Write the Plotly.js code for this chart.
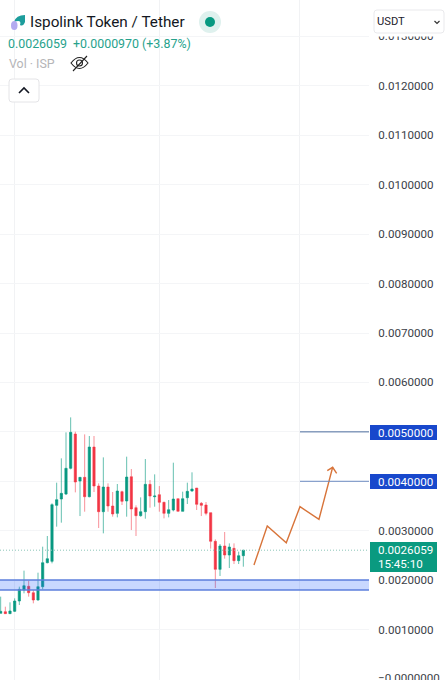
<!DOCTYPE html>
<html><head><meta charset="utf-8">
<script src="https://cdn.plot.ly/plotly-3.0.1.min.js"></script>
<style>html,body{margin:0;padding:0;background:#fff;overflow:hidden}#c{width:448px;height:680px}</style>
</head><body><div id="c"></div>
<script>
const open_ = [0.001328,0.001362,0.001322,0.001369,0.001578,0.001800,0.001875,0.001746,0.001598,0.001868,0.002353,0.002380,0.003513,0.003641,0.003742,0.004262,0.004956,0.004005,0.004080,0.003688,0.004693,0.003904,0.003385,0.003884,0.003500,0.003351,0.003790,0.003601,0.004093,0.003466,0.003304,0.003385,0.003938,0.003688,0.003729,0.003574,0.003351,0.003419,0.003648,0.003392,0.003668,0.003803,0.003864,0.003554,0.003520,0.003365,0.002785,0.002218,0.002691,0.002508,0.002643,0.002394,0.002495];
const high_ = [0.001666,0.001463,0.001551,0.001632,0.001868,0.002192,0.001989,0.001800,0.002151,0.002677,0.002893,0.003554,0.003972,0.004464,0.004990,0.005293,0.005003,0.004080,0.004949,0.004916,0.004916,0.003958,0.004484,0.003958,0.003783,0.003945,0.003810,0.004498,0.004248,0.003513,0.003675,0.004450,0.004026,0.004140,0.003904,0.003587,0.003621,0.004376,0.003648,0.003790,0.003972,0.004181,0.003864,0.003581,0.003581,0.003365,0.002825,0.002731,0.002974,0.002744,0.002744,0.002576,0.002610];
const low_ = [0.001328,0.001315,0.001322,0.001355,0.001497,0.001733,0.001666,0.001531,0.001585,0.001814,0.002340,0.002340,0.003082,0.003163,0.003722,0.004241,0.003776,0.003297,0.003385,0.003675,0.003783,0.003055,0.002947,0.003385,0.003284,0.003270,0.003520,0.003284,0.003014,0.002893,0.003284,0.003243,0.003466,0.003486,0.003385,0.003250,0.003270,0.003392,0.003392,0.003392,0.003540,0.003790,0.003419,0.003297,0.003311,0.002637,0.001841,0.002084,0.002434,0.002245,0.002326,0.002326,0.002272];
const close_ = [0.001369,0.001322,0.001376,0.001578,0.001814,0.001888,0.001746,0.001598,0.001868,0.002353,0.002434,0.003527,0.003628,0.003756,0.004262,0.004990,0.003985,0.004080,0.003688,0.004693,0.003904,0.003385,0.003884,0.003500,0.003338,0.003803,0.003594,0.004086,0.003439,0.003304,0.003385,0.003938,0.003702,0.003702,0.003574,0.003351,0.003425,0.003641,0.003392,0.003648,0.003796,0.003844,0.003533,0.003513,0.003351,0.002785,0.002218,0.002691,0.002508,0.002670,0.002394,0.002495,0.0026059];
const candleIndex = open_.map((_, i) => i);

const arrowX = [54.28,57.13,61.2,64.14,68.21,71.14];
const arrowY = [0.002306,0.003095,0.002757,0.003486,0.003231,0.004283];
const headX = [69.99,71.14,72.0];
const headY = [0.004214,0.004283,0.004161];

const zoneTop = 0.002003, zoneBottom = 0.0018;
const targets = [0.005, 0.004];
const lastPrice = 0.0026059;
const yTicks = [0.001,0.002,0.003,0.004,0.005,0.006,0.007,0.008,0.009,0.01,0.011,0.012,0.013];
const xGrid = [2.86,34.14,64.14];

const W = 369, H = 680;
const px = x => x / W, py = y => 1 - y / H;
const ff = 'Roboto, Arial, sans-serif';
const UP = '#089981', DOWN = '#f23645';

const paperPath = (pts, extra) => Object.assign({type:'path', xref:'paper', yref:'paper', path:pts}, extra);
const P = (x,y) => px(x) + ',' + py(y);
const rect = (x0,y0,x1,y1,fill,line) => ({type:'rect',xref:'paper',yref:'paper',x0:px(x0),x1:px(x1),y0:py(y1),y1:py(y0),fillcolor:fill,line:{color:line||fill,width:line?1:0}});
const circ = (cx,cy,r,fill) => ({type:'circle',xref:'paper',yref:'paper',x0:px(cx-r),x1:px(cx+r),y0:py(cy+r),y1:py(cy-r),fillcolor:fill,line:{width:0}});
const roundRect = (x0,y0,x1,y1,r,line) => paperPath(
  `M${P(x0+r,y0)}L${P(x1-r,y0)}Q${P(x1,y0)} ${P(x1,y0+r)}L${P(x1,y1-r)}Q${P(x1,y1)} ${P(x1-r,y1)}L${P(x0+r,y1)}Q${P(x0,y1)} ${P(x0,y1-r)}L${P(x0,y0+r)}Q${P(x0,y0)} ${P(x0+r,y0)}Z`,
  {fillcolor:'#ffffff', line:{color:line,width:1}});
const txt = (text,x,y,size,color,anchor) => ({text,xref:'paper',yref:'paper',x:px(x-1.5),y:py(y),xanchor:anchor||'left',yanchor:'middle',showarrow:false,font:{family:ff,size,color},borderpad:0});

const traces = [
  {type:'candlestick', x:candleIndex, open:open_, high:high_, low:low_, close:close_,
   increasing:{line:{color:'rgba(8,153,129,0.62)',width:1},fillcolor:UP},
   decreasing:{line:{color:'rgba(242,54,69,0.55)',width:1},fillcolor:DOWN},
   hoverinfo:'skip', showlegend:false},
  {type:'scatter', mode:'lines', x:arrowX, y:arrowY, line:{color:'#d8743a',width:1.4}, hoverinfo:'skip', showlegend:false},
  {type:'scatter', mode:'lines', x:headX, y:headY, line:{color:'#d8743a',width:1.4}, hoverinfo:'skip', showlegend:false}
];

const shapes = [
  {type:'rect',xref:'paper',yref:'y',x0:0,x1:1,y0:zoneBottom,y1:zoneTop,fillcolor:'rgba(41,98,255,0.25)',line:{width:0},layer:'above'},
  {type:'line',xref:'paper',yref:'y',x0:0,x1:1,y0:zoneTop,y1:zoneTop,line:{color:'#5c7fdc',width:1.5}},
  {type:'line',xref:'paper',yref:'y',x0:0,x1:1,y0:zoneBottom,y1:zoneBottom,line:{color:'#5c7fdc',width:1.5}},
  {type:'line',xref:'x',yref:'y',x0:xGrid[2],x1:78.93,y0:targets[0],y1:targets[0],line:{color:'#4d6d9e',width:1}},
  {type:'line',xref:'x',yref:'y',x0:xGrid[2],x1:78.93,y0:targets[1],y1:targets[1],line:{color:'#6b8ac0',width:1}},
  {type:'line',xref:'paper',yref:'y',x0:0,x1:1,y0:lastPrice,y1:lastPrice,line:{color:'#8cc5b9',width:1,dash:'1px,2px'}},
  rect(370,425,437,440,'#1848cc'),
  rect(370,474,437,489,'#1848cc'),
  rect(370,542,437,572,'#0a9a80'),
  rect(370,30,448,36.5,'#ffffff'),
  roundRect(374,10,444,33,3,'#e9e9ec'),
  paperPath(`M${P(434.5,21)}L${P(437,23.5)}L${P(439.5,21)}`,{line:{color:'#333',width:1.2}}),
  roundRect(9,79,39,102,3,'#e4e4e7'),
  paperPath(`M${P(19,93)}L${P(24,88)}L${P(29,93)}`,{line:{color:'#131722',width:1.6}}),
  circ(210,22,11,'#dff1ee'),
  circ(210,22,5,'#089981'),
  paperPath(`M${P(14,22)}Q${P(16,15)} ${P(25,15)}L${P(25,22)}Q${P(23,27)} ${P(20,25)}Q${P(22,19)} ${P(14,22)}Z`,{fillcolor:'#1d9d9c',line:{width:0}}),
  {type:'circle',xref:'paper',yref:'paper',x0:px(11),x1:px(17.5),y0:py(30),y1:py(21),fillcolor:'#b3aaf0',line:{width:0}},
  paperPath(`M${P(71,63)}Q${P(79.5,52)} ${P(88,63)}Q${P(79.5,74)} ${P(71,63)}Z`,{line:{color:'#222',width:1.1}}),
  {type:'circle',xref:'paper',yref:'paper',x0:px(76.5),x1:px(82.5),y0:py(66),y1:py(60),line:{color:'#222',width:1.1}},
  paperPath(`M${P(73,71)}L${P(87,56)}`,{line:{color:'#222',width:1.1}})
];

const annotations = [
  txt('Ispolink Token / Tether',30,22,15.3,'#131722'),
  txt('0.0026059',8,43,12.4,'#27a28c'),
  txt('+0.0000970 (+3.87%)',73,43,12.4,'#27a28c'),
  txt('Vol · ISP',9,63,12.4,'#b5b5b8'),
  txt('USDT',377,22,11.2,'#1e222d'),
  txt('0.0050000',378,432.5,11.6,'#ffffff'),
  txt('0.0040000',378,481.5,11.6,'#ffffff'),
  txt('0.0026059',378,550,11.6,'#ffffff'),
  txt('15:45:10',378,564,11.6,'#ffffff'),
  txt('−0.0000000',378,678,11.6,'#3a3e47')
];

const layout = {
  width:448, height:680, margin:{l:0,r:79,t:0,b:0},
  paper_bgcolor:'#ffffff', plot_bgcolor:'#ffffff', showlegend:false, dragmode:false,
  xaxis:{range:[-0.143,78.93], tickvals:xGrid, showticklabels:false, ticks:'', showgrid:true, gridcolor:'#f1f2f4', gridwidth:1, zeroline:false, rangeslider:{visible:false}, showline:false},
  yaxis:{range:[-0.0000202,0.013737], side:'right', tickvals:yTicks, tickformat:'.7f', showgrid:true, gridcolor:'#f4f5f7', gridwidth:1, zeroline:false, showline:false,
         ticks:'outside', ticklen:6, tickcolor:'rgba(0,0,0,0)', tickfont:{family:ff,size:11.6,color:'#3a3e47'}},
  shapes, annotations
};
Plotly.newPlot('c', traces, layout, {displayModeBar:false, staticPlot:true});
</script></body></html>
